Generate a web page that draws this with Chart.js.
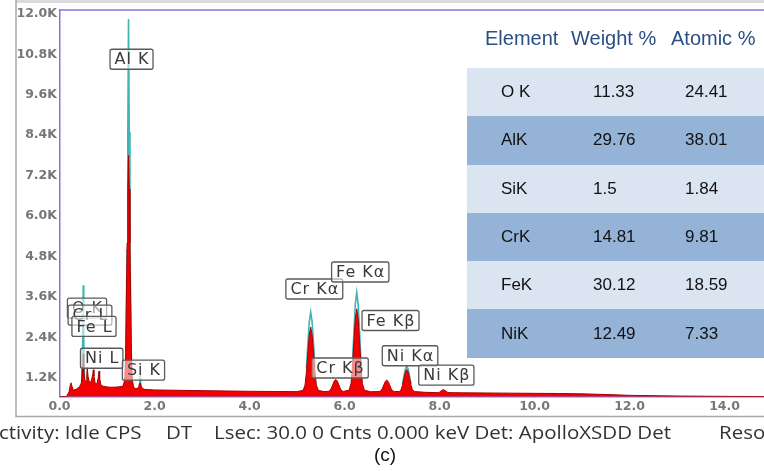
<!DOCTYPE html>
<html>
<head>
<meta charset="utf-8">
<script src="https://cdn.jsdelivr.net/npm/chart.js@4.4.1/dist/chart.umd.min.js"></script>
<style>
  html, body { margin: 0; padding: 0; background: #fff; }
  #wrap { position: relative; width: 764px; height: 471px; overflow: hidden; }
  #spec { position: absolute; left: 0; top: 0; }
  .hdr { position: absolute; top: 27px; font: 20px "Liberation Sans", Arial, sans-serif; color: #2b4f84; white-space: pre; }
  #tbl { position: absolute; left: 467px; top: 68px; width: 300px; }
  .row { position: relative; height: 48.3px; }
  .row span { position: absolute; top: 50%; transform: translateY(-50%); font: 17px "Liberation Sans", Arial, sans-serif; color: #111; white-space: pre; }
  .status { position: absolute; top: 420px; font: 17.5px "Open Sans", sans-serif; color: #333; white-space: pre; transform: scaleX(1.17); transform-origin: 0 0; }
  #cap { position: absolute; top: 444px; left: 0; width: 770px; text-align: center; font: 19px "Liberation Sans", Arial, sans-serif; color: #111; }
</style>
</head>
<body>
<div id="wrap">
  <canvas id="spec" width="764" height="471"></canvas>
  <div class="hdr" id="h0"></div>
  <div class="hdr" id="h1"></div>
  <div class="hdr" id="h2"></div>
  <div id="tbl"></div>
  <div class="status" style="left:-14px">Activity: Idle CPS</div>
  <div class="status" style="left:166px">DT</div>
  <div class="status" style="left:214px">Lsec: 30.0 0 Cnts 0.000 keV Det: ApolloXSDD Det</div>
  <div class="status" style="left:719px">Resolution</div>
  <div id="cap">(c)</div>
</div>
<script>
// Measured spectrum (energy in keV, counts)
const redKeV = [0.00,0.15,0.20,0.23,0.242,0.26,0.29,0.35,0.42,0.46,0.48,0.49,0.50,0.51,0.53,0.56,0.575,0.585,0.60,0.63,0.67,0.70,0.712,0.725,0.75,0.79,0.815,0.832,0.845,0.87,0.92,1.00,1.10,1.20,1.30,1.34,
  1.373,1.393,1.408,1.423,1.438,1.453,1.468,1.483,1.498,1.513,1.533,1.56,1.60,1.65,1.67,1.685,1.695,1.705,1.72,1.75,1.80,
  2.00,2.50,3.00,3.50,4.00,4.50,5.00,
  5.128,5.168,5.198,5.228,5.258,5.288,5.318,5.348,5.378,5.408,5.448,5.55,
  5.655,5.695,5.725,5.755,5.785,5.815,5.845,5.875,5.905,5.935,5.975,
  6.097,6.137,6.167,6.197,6.227,6.257,6.287,6.317,6.347,6.377,6.417,6.55,
  6.728,6.768,6.798,6.828,6.858,6.888,6.918,6.948,6.978,7.008,7.048,
  7.15,7.19,7.22,7.25,7.28,7.31,7.34,7.37,7.40,7.43,7.47,7.70,
  7.96,8.00,8.04,8.08,8.12,8.16,8.20,8.50,9.00,9.50,10.00,10.50,11.00,11.50,12.00,13.00,14.00,14.85];
const redCps = [640,650,780,1000,1053,960,830,860,930,1050,1460,1250,1900,1400,1150,1080,1300,1510,1250,1060,1100,1300,1440,1250,1040,1020,1200,1400,1200,990,950,930,920,925,940,960,
  1150,1950,3500,5200,6800,7800,6800,5200,3500,1950,1150,920,880,890,950,1030,1044,1030,950,880,855,
  840,830,820,810,800,795,790,
  830,981,1364,1938,2474,2704,2474,1938,1364,981,830,795,
  797,826,899,1008,1110,1153,1110,1008,899,826,797,
  834,1031,1523,2262,2951,3246,2951,2262,1523,1031,834,787,
  792,820,890,995,1093,1132,1093,995,890,820,792,
  793,847,980,1181,1368,1448,1368,1181,980,847,793,770,
  760,775,820,850,820,775,760,755,750,745,740,735,725,705,680,660,650,645];

// Overlay spectrum: only the peak tops rise above the main trace
const tealKeV = [0.47,0.49,0.50,0.51,0.53,0.54,
  1.393,1.423,1.438,1.453,1.468,1.483,1.513,1.52,
  1.675,1.69,1.695,1.70,1.715,1.72,
  5.198,5.228,5.258,5.288,5.318,5.348,5.378,5.38,
  6.167,6.197,6.227,6.257,6.287,6.317,6.347,6.35,
  7.22,7.25,7.28,7.31,7.34,7.37,7.40];
const tealCps = [900,2400,3950,2400,900,null,
  1700,5000,8500,11850,8500,5000,1700,null,
  900,1150,1190,1150,900,null,
  1497,2204,2863,3146,2863,2204,1497,null,
  1670,2555,3381,3735,3381,2555,1670,null,
  1010,1239,1453,1545,1453,1239,1010];

const xTicks = [0,2,4,6,8,10,12,14];
const yTicks = [1200,2400,3600,4800,6000,7200,8400,9600,10800,12000];

// Peak identification labels, placed in energy/count coordinates
const peakLabels = [
  { text: 'Al K',  keV: 1.516, cps: 10654 },
  { text: 'O K',   keV: 0.579, cps: 3270 },
  { text: 'Cr L',  keV: 0.642, cps: 3063 },
  { text: 'Fe L',  keV: 0.726, cps: 2724 },
  { text: 'Ni L',  keV: 0.888, cps: 1781 },
  { text: 'Si K',  keV: 1.768, cps: 1427 },
  { text: 'Cr K\u03b1', keV: 5.364, cps: 3836 },
  { text: 'Fe K\u03b1', keV: 6.331, cps: 4340 },
  { text: 'Fe K\u03b2', keV: 6.968, cps: 2901 },
  { text: 'Cr K\u03b2', keV: 5.905, cps: 1492 },
  { text: 'Ni K\u03b1', keV: 7.379, cps: 1855 },
  { text: 'Ni K\u03b2', keV: 8.143, cps: 1280 }
];

// Quantification table
const tableHead = ['Element', 'Weight %', 'Atomic %'];
const elements = ['O K', 'AlK', 'SiK', 'CrK', 'FeK', 'NiK'];
const weightPct = ['11.33', '29.76', '1.5', '14.81', '30.12', '12.49'];
const atomicPct = ['24.41', '38.01', '1.84', '9.81', '18.59', '7.33'];

// --- table ---
const headLeft = [485, 571, 671];
tableHead.forEach((t, i) => {
  const el = document.getElementById('h' + i);
  el.textContent = t;
  el.style.left = headLeft[i] + 'px';
});
const tbl = document.getElementById('tbl');
elements.forEach((e, i) => {
  const row = document.createElement('div');
  row.className = 'row';
  row.style.background = i % 2 === 0 ? '#dbe5f1' : '#95b3d7';
  [[e, 34], [weightPct[i], 126], [atomicPct[i], 218]].forEach(([txt, l]) => {
    const s = document.createElement('span');
    s.textContent = txt;
    s.style.left = l + 'px';
    row.appendChild(s);
  });
  tbl.appendChild(row);
});

// --- chart ---
const toPoints = (xs, ys) => xs.map((x, i) => ({ x: x, y: ys[i] }));

const framePlugin = {
  id: 'frame',
  beforeDraw(chart) {
    const ctx = chart.ctx;
    ctx.save();
    ctx.fillStyle = '#fff';
    ctx.fillRect(0, 0, chart.width, chart.height);
    ctx.restore();
  },
  afterDraw(chart) {
    const ctx = chart.ctx, a = chart.chartArea;
    ctx.save();
    // outer window frame
    ctx.fillStyle = '#d9d9de';
    ctx.fillRect(16, 0, chart.width - 16, 3);
    ctx.strokeStyle = '#a8a8a8';
    ctx.lineWidth = 1.5;
    ctx.beginPath();
    ctx.moveTo(16, 0); ctx.lineTo(16, 416.5); ctx.lineTo(chart.width, 416.5);
    ctx.stroke();
    // top edge of plot area
    ctx.strokeStyle = '#7878e0';
    ctx.lineWidth = 1.5;
    ctx.beginPath();
    ctx.moveTo(a.left, a.top); ctx.lineTo(a.right, a.top);
    ctx.stroke();
    ctx.restore();
  }
};

const labelPlugin = {
  id: 'peakLabels',
  afterDatasetsDraw(chart) {
    const ctx = chart.ctx, xs = chart.scales.x, ys = chart.scales.y;
    ctx.save();
    ctx.font = '16px "DejaVu Sans", sans-serif';
    ctx.letterSpacing = '1px';
    ctx.textAlign = 'center';
    ctx.textBaseline = 'middle';
    peakLabels.forEach(l => {
      const cx = xs.getPixelForValue(l.keV);
      const cy = ys.getPixelForValue(l.cps);
      const w = ctx.measureText(l.text).width + 8;
      const h = 20;
      ctx.fillStyle = 'rgba(255,255,255,0.55)';
      ctx.strokeStyle = '#5a5a5a';
      ctx.lineWidth = 1.3;
      ctx.beginPath();
      ctx.roundRect(cx - w / 2, cy - h / 2, w, h, 2);
      ctx.fill();
      ctx.stroke();
      ctx.fillStyle = '#3a3a3a';
      ctx.fillText(l.text, cx + 0.5, cy + 1);
    });
    ctx.restore();
  }
};

const tickFont = { family: '"DejaVu Sans", sans-serif', size: 12.5, weight: 'bold' };

new Chart(document.getElementById('spec'), {
  type: 'line',
  data: {
    datasets: [
      {
        label: 'Spectrum',
        data: toPoints(redKeV, redCps),
        borderColor: '#a80000',
        borderWidth: 1,
        backgroundColor: '#f40000',
        fill: 'start',
        pointRadius: 0,
        tension: 0
      },
      {
        label: 'Overlay',
        data: toPoints(tealKeV, tealCps),
        borderColor: '#42b3b3',
        borderWidth: 1.6,
        fill: false,
        pointRadius: 0,
        tension: 0,
        spanGaps: false
      }
    ]
  },
  options: {
    responsive: false,
    animation: false,
    events: [],
    layout: { padding: { left: 0, right: 0, top: 7.5, bottom: 52.3 } },
    plugins: { legend: { display: false }, tooltip: { enabled: false } },
    scales: {
      x: {
        type: 'linear',
        min: 0,
        max: 14.83,
        afterFit: s => { s.height = 22; },
        afterBuildTicks: s => { s.ticks = xTicks.map(v => ({ value: v })); },
        grid: { display: false, drawTicks: false },
        border: { display: true, color: '#7878e0', width: 1.5 },
        ticks: {
          padding: 3,
          maxRotation: 0,
          autoSkip: false,
          color: '#777',
          font: tickFont,
          callback: v => Number(v).toFixed(1)
        }
      },
      y: {
        type: 'linear',
        min: 640,
        max: 12115,
        afterFit: s => { s.width = 59.5; },
        afterBuildTicks: s => { s.ticks = yTicks.map(v => ({ value: v })); },
        grid: { display: false, drawTicks: false },
        border: { display: true, color: '#7878e0', width: 1.5 },
        ticks: {
          padding: 2.5,
          autoSkip: false,
          color: '#777',
          font: tickFont,
          callback: v => (v / 1000).toFixed(1) + 'K'
        }
      }
    }
  },
  plugins: [framePlugin, labelPlugin]
});
</script>
</body>
</html>
